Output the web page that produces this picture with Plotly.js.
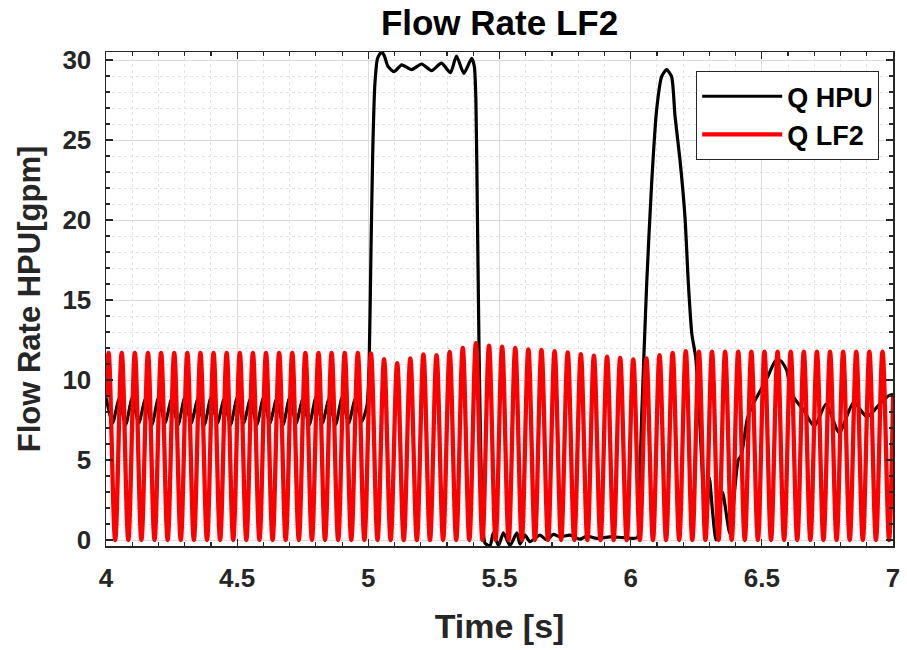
<!DOCTYPE html>
<html>
<head>
<meta charset="utf-8">
<script src="https://cdn.plot.ly/plotly-3.0.1.min.js"></script>
<style>
  html, body { margin: 0; padding: 0; background: #ffffff; }
  #chart { width: 907px; height: 650px; }
</style>
</head>
<body>
<div id="chart"></div>
<script>
// ---------------- data ----------------
const chartTitle = 'Flow Rate LF2';
const xTitle = 'Time [s]';
const yTitle = 'Flow Rate HPU[gpm]';
const seriesNames = ['Q HPU', 'Q LF2'];

const xTickVals = [4, 4.5, 5, 5.5, 6, 6.5, 7];
const xTickText = ['4', '4.5', '5', '5.5', '6', '6.5', '7'];
const yTickVals = [0, 5, 10, 15, 20, 25, 30];
const yTickText = ['0', '5', '10', '15', '20', '25', '30'];

// Q HPU (black)
const hpuT = [
  4.000, 4.025, 4.050, 4.075, 4.100, 4.125, 4.150, 4.175, 4.200, 4.225,
  4.250, 4.275, 4.300, 4.325, 4.350, 4.375, 4.400, 4.425, 4.450, 4.475,
  4.500, 4.525, 4.550, 4.575, 4.600, 4.625, 4.650, 4.675, 4.700, 4.725,
  4.750, 4.775, 4.800, 4.825, 4.850, 4.875, 4.900, 4.925, 4.950, 4.975,
  4.995, 5.003, 5.010, 5.017, 5.025, 5.035, 5.050, 5.060, 5.075, 5.098,
  5.127, 5.165, 5.203, 5.241, 5.279, 5.313, 5.336, 5.364, 5.394, 5.404,
  5.410, 5.416, 5.422, 5.428, 5.435, 5.445, 5.464, 5.476, 5.496, 5.515,
  5.540, 5.566, 5.578, 5.597, 5.616, 5.654, 5.680, 5.705, 5.730, 5.769,
  5.807, 5.832, 5.871, 5.921, 5.972, 6.025, 6.032, 6.042, 6.061, 6.080,
  6.099, 6.118, 6.137, 6.156, 6.169, 6.188, 6.207, 6.220, 6.233, 6.248,
  6.262, 6.276, 6.290, 6.300, 6.312, 6.325, 6.350, 6.378, 6.410, 6.422,
  6.445, 6.470, 6.500, 6.525, 6.552, 6.572, 6.595, 6.610, 6.635, 6.660,
  6.700, 6.745, 6.795, 6.850, 6.900, 6.950, 6.982, 7.000
];
const hpuQ = [
  8.9, 7.3, 8.8, 7.2, 8.9, 7.3, 8.8, 7.2, 8.9, 7.3,
  8.8, 7.2, 8.9, 7.3, 8.8, 7.2, 8.9, 7.3, 8.8, 7.2,
  8.9, 7.3, 8.8, 7.2, 8.9, 7.3, 8.8, 7.2, 8.9, 7.3,
  8.8, 7.2, 8.9, 7.3, 8.8, 7.2, 8.9, 7.3, 8.8, 7.4,
  8.4, 11.0, 18.0, 24.4, 28.5, 30.1, 30.5, 30.3, 29.6, 29.27,
  29.7, 29.4, 29.75, 29.33, 29.8, 29.2, 30.25, 29.17, 30.1, 29.6,
  27.5, 20.0, 12.0, 6.0, 1.5, -0.2, -0.37, 0.45, -0.35, 0.45,
  -0.35, 0.45, -0.25, 0.3, -0.1, 0.3, 0.0, 0.35, 0.2, 0.3,
  0.05, 0.25, 0.1, 0.2, 0.15, 0.15, 2.5, 7.7, 16.0, 22.3,
  26.9, 28.96, 29.4, 28.96, 26.5, 23.75, 20.2, 16.0, 12.9, 11.4,
  7.8, 3.5, 1.6, 3.9, 1.8, 0.0, 3.0, 0.4, 5.0, 5.3,
  7.6, 8.6, 9.5, 10.3, 11.2, 11.2, 10.6, 9.3, 8.6, 8.1,
  7.1, 8.5, 6.7, 8.6, 7.7, 8.5, 9.0, 9.1
];

// Q LF2 (red): peaks and troughs of the 20 Hz oscillation
const lf2T = [
  4.000,
  4.010, 4.035, 4.060, 4.085, 4.110, 4.135, 4.160, 4.185, 4.210, 4.235,
  4.260, 4.285, 4.310, 4.335, 4.360, 4.385, 4.410, 4.435, 4.460, 4.485,
  4.510, 4.535, 4.560, 4.585, 4.610, 4.635, 4.660, 4.685, 4.710, 4.735,
  4.760, 4.785, 4.810, 4.835, 4.860, 4.885, 4.910, 4.935, 4.960, 4.985,
  5.010, 5.035, 5.060, 5.085, 5.110, 5.135, 5.160, 5.185, 5.210, 5.235,
  5.260, 5.285, 5.310, 5.335, 5.360, 5.385, 5.410, 5.435, 5.460, 5.485,
  5.510, 5.535, 5.560, 5.585, 5.610, 5.635, 5.660, 5.685, 5.710, 5.735,
  5.760, 5.785, 5.810, 5.835, 5.860, 5.885, 5.910, 5.935, 5.960, 5.985,
  6.010, 6.035, 6.060, 6.085, 6.110, 6.135, 6.160, 6.185, 6.210, 6.235,
  6.260, 6.285, 6.310, 6.335, 6.360, 6.385, 6.410, 6.435, 6.460, 6.485,
  6.510, 6.535, 6.560, 6.585, 6.610, 6.635, 6.660, 6.685, 6.710, 6.735,
  6.760, 6.785, 6.810, 6.835, 6.860, 6.885, 6.910, 6.935, 6.960, 6.985,
  7.000
];
const lf2Q = [
  8.9,
  11.7, 0, 11.7, 0, 11.7, 0, 11.7, 0, 11.7, 0,
  11.7, 0, 11.7, 0, 11.7, 0, 11.7, 0, 11.7, 0,
  11.7, 0, 11.7, 0, 11.7, 0, 11.7, 0, 11.7, 0,
  11.7, 0, 11.7, 0, 11.7, 0, 11.7, 0, 11.7, 0,
  11.67, 0, 11.3, 0, 11.05, 0, 11.35, 0, 11.6, 0,
  11.55, 0, 11.75, 0, 12.0, 0, 12.3, 0, 12.15, 0,
  12.08, 0, 12.0, 0, 11.92, 0, 11.88, 0, 11.8, 0,
  11.73, 0, 11.62, 0, 11.52, 0, 11.46, 0, 11.38, 0,
  11.28, 0, 11.35, 0, 11.56, 0, 11.7, 0, 11.8, 0,
  11.77, 0, 11.77, 0, 11.77, 0, 11.77, 0, 11.77, 0,
  11.77, 0, 11.77, 0, 11.77, 0, 11.77, 0, 11.77, 0,
  11.77, 0, 11.77, 0, 11.77, 0, 11.77, 0, 11.77, 0,
  9.0
];

// ---------------- chart ----------------
const FONT = 'Liberation Sans, Arial, Helvetica, sans-serif';
const AXIS = '#262626';

const traces = [
  {
    x: hpuT, y: hpuQ, name: seriesNames[0], type: 'scatter', mode: 'lines',
    line: {color: '#000000', width: 3.2, shape: 'spline', smoothing: 0.6}
  },
  {
    x: lf2T, y: lf2Q, name: seriesNames[1], type: 'scatter', mode: 'lines',
    line: {color: '#ff0000', width: 4.3, shape: 'spline', smoothing: 1}
  }
];

function axisCommon() {
  return {
    showline: true, linecolor: AXIS, linewidth: 1.5, mirror: 'allticks',
    ticks: 'inside', ticklen: 7, tickwidth: 1.2, tickcolor: AXIS,
    showgrid: true, gridcolor: '#dcdcdc', gridwidth: 1,
    zeroline: false,
    tickfont: {family: FONT, size: 26, weight: 'bold', color: AXIS},
    ticklabelstandoff: 8
  };
}

const xaxis = Object.assign(axisCommon(), {
  range: [4, 7], tickmode: 'array', tickvals: xTickVals, ticktext: xTickText,
  minor: {tickmode: 'linear', tick0: 4, dtick: 0.1, ticks: 'inside', ticklen: 4,
          tickcolor: AXIS, showgrid: true, gridcolor: '#e3e3e3', griddash: 'dot', gridwidth: 1},
  title: {text: xTitle, font: {family: FONT, size: 34, weight: 'bold', color: AXIS}, standoff: 22}
});
const yaxis = Object.assign(axisCommon(), {
  range: [-0.375, 30.5], tickmode: 'array', tickvals: yTickVals, ticktext: yTickText,
  minor: {tickmode: 'linear', tick0: 0, dtick: 1, ticks: 'inside', ticklen: 4,
          tickcolor: AXIS, showgrid: true, gridcolor: '#e3e3e3', griddash: 'dot', gridwidth: 1},
  title: {text: yTitle, font: {family: FONT, size: 31, weight: 'bold', color: AXIS}, standoff: 12}
});

const layout = {
  width: 907, height: 650,
  paper_bgcolor: '#ffffff', plot_bgcolor: '#ffffff',
  margin: {l: 106, r: 14, t: 52, b: 104, pad: 0},
  font: {family: FONT, color: AXIS},
  title: {
    text: chartTitle,
    font: {family: FONT, size: 35, weight: 'bold', color: '#000000'},
    x: 0.5, xref: 'paper', xanchor: 'center',
    y: 1 - 23 / 650, yref: 'container', yanchor: 'middle'
  },
  xaxis: xaxis,
  yaxis: yaxis,
  showlegend: true,
  legend: {
    x: (696 - 106) / 787, xanchor: 'left',
    y: (546 - 70.7) / 494.3, yanchor: 'top',
    bgcolor: '#ffffff', bordercolor: AXIS, borderwidth: 1.2,
    font: {family: FONT, size: 27, weight: 'bold', color: '#000000'},
    itemwidth: 80, tracegroupgap: 0
  }
};

Plotly.newPlot('chart', traces, layout, {displayModeBar: false, staticPlot: true});
</script>
</body>
</html>
